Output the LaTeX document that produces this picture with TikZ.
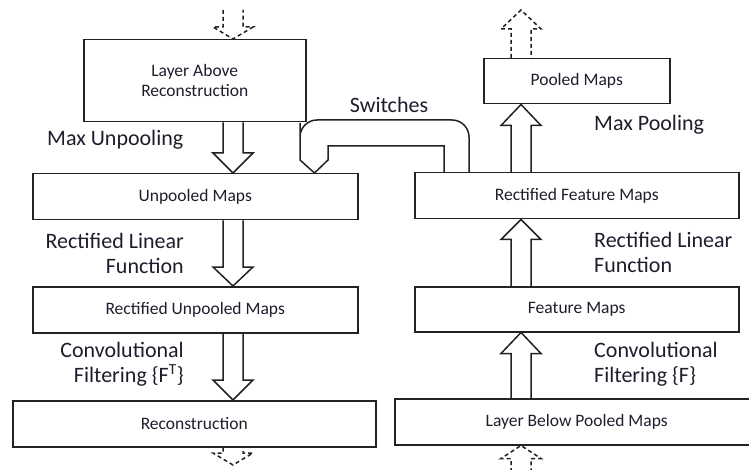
\documentclass[tikz,border=0pt]{standalone}
\usepackage{fontspec}
\setmainfont{Carlito}
\usetikzlibrary{calc}

\definecolor{ink}{HTML}{1C1E2C}
\definecolor{edge}{HTML}{222222}

\tikzset{
  box/.style={draw=edge, line width=1.5pt, inner sep=0pt, anchor=north west,
    align=center, text=ink, font=\fontsize{17.5}{20}\selectfont},
  lbl/.style={inner sep=0pt, text=ink, font=\fontsize{22}{25}\selectfont},
  blockline/.style={draw=edge, line width=1.5pt, line join=miter},
  ghost/.style={dash pattern=on 4pt off 3pt},
  pipe/.style={draw=edge, line width=1.5pt},
}

% hollow block arrows: shaft half-width 10, head half-width 20, head length #4
\newcommand\blkdown[4][]{%
  \draw[blockline,#1] let \p1=(#2), \p2=(#3) in
    (\x1-10pt,\y1) -- (\x1-10pt,\y2+#4) -- (\x1-20pt,\y2+#4) -- (\x1,\y2)
    -- (\x1+20pt,\y2+#4) -- (\x1+10pt,\y2+#4) -- (\x1+10pt,\y1);}
\newcommand\blkup[4][]{%
  \draw[blockline,#1] let \p1=(#2), \p2=(#3) in
    (\x1-10pt,\y1) -- (\x1-10pt,\y2-#4) -- (\x1-20pt,\y2-#4) -- (\x1,\y2)
    -- (\x1+20pt,\y2-#4) -- (\x1+10pt,\y2-#4) -- (\x1+10pt,\y1);}

\begin{document}
\begin{tikzpicture}[x=1pt,y=-1pt]
\useasboundingbox (0,0) rectangle (749,470);

% deconvolution column
\node[box, minimum width=222pt, minimum height=82pt] (above) at (83,39) {Layer Above\\Reconstruction};
\node[box, minimum width=325pt, minimum height=46pt] (unpooled) at (32,173) {Unpooled Maps};
\node[box, minimum width=325pt, minimum height=46pt] (runpooled) at (32,286) {Rectified Unpooled Maps};
\node[box, minimum width=363pt, minimum height=46pt] (recon) at (12,400) {Reconstruction};

% convolution column
\node[box, minimum width=186pt, minimum height=45pt] (pooled) at (483,58) {Pooled Maps};
\node[box, minimum width=324pt, minimum height=46pt] (rfeat) at (414,172) {Rectified Feature Maps};
\node[box, minimum width=324pt, minimum height=45pt] (feat) at (414,286) {Feature Maps};
\node[box, minimum width=364pt, minimum height=46pt] (below) at (394,398) {Layer Below Pooled Maps};

% arrow axes and free ends
\coordinate (lx) at (233,0);
\coordinate (rx) at (521,0);
\coordinate (topL) at (233,10);
\coordinate (botL) at (233,465);
\coordinate (topR) at (521,10);
\coordinate (botR) at (521,472);

% downward flow
\blkdown[ghost]{topL}{lx |- above.north}{12pt}
\blkdown{lx |- above.south}{lx |- unpooled.north}{20pt}
\blkdown{lx |- unpooled.south}{lx |- runpooled.north}{19pt}
\blkdown{lx |- runpooled.south}{lx |- recon.north}{20pt}
\blkdown[ghost]{lx |- recon.south}{botL}{12pt}

% upward flow
\blkup[ghost]{rx |- pooled.north}{topR}{19pt}
\blkup{rx |- rfeat.north}{rx |- pooled.south}{21pt}
\blkup{rx |- feat.north}{rx |- rfeat.south}{20pt}
\blkup{rx |- below.north}{rx |- feat.south}{21pt}
\blkup[ghost]{botR}{rx |- below.south}{13pt}

% switches pipe from the rectified feature maps to the unpooled maps
\coordinate (swtip) at ([xshift=-44pt]unpooled.north east);
\draw[pipe] ([xshift=55pt]rfeat.north west) [rounded corners=17pt] -- (469,120) -- (300,120)
  -- (300,140) [sharp corners] -- (300,160) -- (swtip);
\draw[pipe] ([xshift=30pt]rfeat.north west) |- (328,146) -- (328,160) -- (swtip);

% operation labels
\node[lbl, anchor=west] (lmu) at (47,140) {Max Unpooling};
\node[lbl, anchor=east, align=right] (lrl) at (184,253) {Rectified Linear\\Function};
\node[lbl, anchor=east, align=right] (lcf) at (184,364) {Convolutional\\Filtering \{F\textsuperscript{T}\}};
\node[lbl] (lsw) at (389,105) {Switches};
\node[lbl, anchor=west] (lmp) at (594,125) {Max Pooling};
\node[lbl, anchor=west, align=left] (rrl) at (594,252) {Rectified Linear\\Function};
\node[lbl, anchor=west, align=left] (rcf) at (594,364) {Convolutional\\Filtering \{F\}};
\end{tikzpicture}
\end{document}
